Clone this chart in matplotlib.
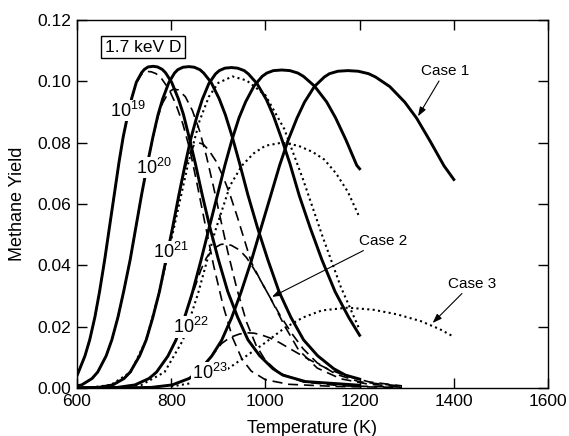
import matplotlib
matplotlib.use("Agg")
import matplotlib.pyplot as plt

plt.rcParams["font.family"] = ["Liberation Sans", "DejaVu Sans"]
plt.rcParams["mathtext.fontset"] = "custom"
plt.rcParams["mathtext.rm"] = "Liberation Sans"

# Case 1 (solid), one curve per flux (m-2 s-1)
case1_19_t = [600, 617, 627, 638, 648, 659, 669, 679, 689, 698, 708, 716, 726, 737, 743, 751, 762, 771, 781, 788, 801,
              815, 826, 838, 851, 866, 882, 900, 920, 941, 963, 988, 1016, 1037, 1085, 1200]
case1_19_y = [0.004, 0.0105, 0.0157, 0.0231, 0.0315, 0.042, 0.0525, 0.0629, 0.0734, 0.0818, 0.0892, 0.0944, 0.0997,
              0.1028, 0.1039, 0.1047, 0.1049, 0.1047, 0.1039, 0.1028, 0.0997, 0.0944, 0.0892, 0.0818, 0.0734, 0.0629,
              0.0525, 0.042, 0.0315, 0.0231, 0.0157, 0.0105, 0.0063, 0.0042, 0.0021, 0.0009]
case1_20_t = [600, 610, 632, 644, 662, 674, 687, 699, 713, 725, 737, 750, 761, 772, 782, 795, 807, 814, 825, 838, 849,
              861, 869, 885, 902, 915, 930, 945, 963, 983, 1005, 1029, 1054, 1081, 1111, 1145, 1170, 1200]
case1_20_y = [0.0007, 0.001, 0.0031, 0.0052, 0.0105, 0.0157, 0.0231, 0.0314, 0.0419, 0.0524, 0.0629, 0.0734, 0.0817,
              0.0891, 0.0943, 0.0996, 0.1027, 0.1038, 0.1046, 0.1048, 0.1046, 0.1038, 0.1027, 0.0996, 0.0943, 0.0891,
              0.0817, 0.0734, 0.0629, 0.0524, 0.0419, 0.0314, 0.0231, 0.0157, 0.0105, 0.0063, 0.0042, 0.0029]
case1_21_t = [600, 646, 676, 700, 713, 733, 747, 761, 775, 789, 803, 816, 830, 842, 855, 866, 880, 894, 902, 914, 928,
              941, 955, 964, 982, 1002, 1017, 1034, 1052, 1072, 1095, 1120, 1148, 1177, 1200]
case1_21_y = [0.0, 0.0002, 0.001, 0.0031, 0.0052, 0.0105, 0.0157, 0.023, 0.0314, 0.0418, 0.0523, 0.0627, 0.0732,
              0.0815, 0.0888, 0.0941, 0.0993, 0.1024, 0.1035, 0.1043, 0.1045, 0.1043, 0.1035, 0.1024, 0.0993, 0.0941,
              0.0888, 0.0815, 0.0732, 0.0627, 0.0523, 0.0418, 0.0314, 0.023, 0.0172]
case1_22_t = [600, 686, 723, 753, 769, 793, 810, 828, 845, 863, 880, 897, 914, 929, 944, 958, 976, 993, 1003, 1017,
              1035, 1052, 1069, 1081, 1104, 1130, 1149, 1171, 1194, 1200]
case1_22_y = [0.0, 0.0002, 0.001, 0.0031, 0.0052, 0.0104, 0.0156, 0.0228, 0.0311, 0.0415, 0.0519, 0.0622, 0.0726,
              0.0809, 0.0881, 0.0933, 0.0985, 0.1016, 0.1027, 0.1035, 0.1037, 0.1035, 0.1027, 0.1016, 0.0985, 0.0933,
              0.0881, 0.0809, 0.0726, 0.0715]
case1_23_t = [600, 700, 758, 802, 838, 857, 886, 907, 928, 948, 970, 990, 1010, 1030, 1048, 1067, 1083, 1104, 1125,
              1136, 1154, 1175, 1197, 1219, 1234, 1264, 1296, 1321, 1349, 1379, 1400]
case1_23_y = [0.0, 0.00003, 0.0002, 0.001, 0.0031, 0.0052, 0.0104, 0.0155, 0.0228, 0.0311, 0.0414, 0.0518, 0.0621,
              0.0725, 0.0807, 0.088, 0.0932, 0.0983, 0.1014, 0.1025, 0.1033, 0.1035, 0.1033, 0.1025, 0.1014, 0.0983,
              0.0932, 0.088, 0.0807, 0.0725, 0.068]

# Case 2 (dashed): rising side sits under the Case 1 curve, lower peak, faster fall
case2_19_t = [600, 617, 627, 638, 648, 659, 669, 679, 689, 698, 708, 716, 726, 737, 743, 751, 758, 768, 780, 795, 810,
              825, 840, 855, 870, 890, 910, 930, 950, 970, 1000, 1050, 1150, 1290]
case2_19_y = [0.004, 0.0105, 0.0157, 0.0231, 0.0315, 0.042, 0.0525, 0.0629, 0.0734, 0.0818, 0.0892, 0.0944, 0.0995,
              0.1023, 0.1030, 0.1032, 0.1031, 0.1025, 0.1008, 0.0975, 0.0925, 0.086, 0.0775, 0.0665, 0.055, 0.040,
              0.027, 0.0165, 0.0095, 0.0055, 0.0027, 0.0012, 0.0005, 0.0002]
case2_20_t = [600, 610, 632, 644, 662, 674, 687, 699, 713, 725, 737, 750, 761, 772, 782, 795, 805, 815, 830, 845, 860,
              875, 890, 905, 920, 940, 960, 980, 1000, 1030, 1080, 1160, 1290]
case2_20_y = [0.0007, 0.001, 0.0031, 0.0052, 0.0105, 0.0157, 0.0231, 0.0314, 0.0419, 0.0524, 0.0629, 0.0734, 0.0815,
              0.0885, 0.0930, 0.0965, 0.0975, 0.0972, 0.0950, 0.0905, 0.0840, 0.0755, 0.0655, 0.0550, 0.0445, 0.0320,
              0.0215, 0.0140, 0.0090, 0.0048, 0.0020, 0.0007, 0.0003]
case2_21_t = [600, 646, 676, 700, 713, 733, 747, 761, 775, 789, 803, 816, 830, 842, 850, 858, 868, 880, 895, 910, 925,
              940, 955, 970, 990, 1010, 1040, 1070, 1110, 1160, 1220, 1290]
case2_21_y = [0.0, 0.0002, 0.001, 0.0031, 0.0052, 0.0105, 0.0157, 0.023, 0.0314, 0.0418, 0.0523, 0.0625, 0.0720,
              0.0775, 0.0795, 0.0800, 0.0795, 0.0775, 0.0740, 0.0690, 0.0630, 0.0560, 0.0485, 0.0410, 0.0350, 0.0295,
              0.0205, 0.0125, 0.0065, 0.0030, 0.0012, 0.0005]
case2_22_t = [600, 686, 723, 753, 769, 793, 810, 828, 845, 863, 875, 890, 905, 915, 928, 945, 960, 975, 990, 1010, 1030,
              1055, 1080, 1110, 1150, 1200, 1290]
case2_22_y = [0.0, 0.0002, 0.001, 0.0031, 0.0052, 0.0104, 0.0156, 0.0228, 0.0305, 0.0385, 0.0425, 0.0455, 0.0468,
              0.0470, 0.0465, 0.0450, 0.0425, 0.0390, 0.0350, 0.0295, 0.0240, 0.0180, 0.0128, 0.0082, 0.0045, 0.0020,
              0.0006]
case2_23_t = [600, 758, 802, 838, 857, 886, 907, 925, 945, 960, 975, 990, 1010, 1030, 1050, 1075, 1100, 1130, 1170,
              1220, 1290]
case2_23_y = [0.0, 0.0002, 0.001, 0.0031, 0.0052, 0.0104, 0.0145, 0.0165, 0.0176, 0.0180, 0.0179, 0.0174, 0.0163,
              0.0148, 0.0130, 0.0108, 0.0087, 0.0064, 0.0040, 0.0020, 0.0007]

# Case 3 (dotted)
case3_21_t = [641, 672, 714, 747, 775, 806, 836, 860, 880, 900, 930, 960, 1000, 1040, 1080, 1120, 1160, 1200]
case3_21_y = [0.0004, 0.001, 0.0052, 0.0157, 0.0314, 0.0523, 0.0732, 0.0870, 0.0950, 0.0995, 0.1016, 0.1003, 0.0955,
              0.0845, 0.0680, 0.0500, 0.0330, 0.0190]
case3_22_t = [701, 737, 786, 825, 857, 893, 925, 950, 975, 1000, 1035, 1070, 1100, 1125, 1150, 1175, 1200]
case3_22_y = [0.0004, 0.001, 0.0052, 0.0156, 0.0308, 0.0510, 0.0660, 0.0725, 0.0765, 0.0790, 0.0800, 0.0790, 0.0770,
              0.0745, 0.0700, 0.0640, 0.0556]
case3_23_t = [800, 840, 880, 918, 960, 1000, 1040, 1080, 1120, 1175, 1230, 1280, 1330, 1370, 1400]
case3_23_y = [0.0005, 0.0015, 0.0032, 0.0060, 0.0105, 0.0148, 0.0195, 0.0230, 0.0253, 0.0262, 0.0255, 0.0240, 0.0218,
              0.0192, 0.0167]

flux_labels = [r"$\mathregular{10^{19}}$", r"$\mathregular{10^{20}}$", r"$\mathregular{10^{21}}$",
               r"$\mathregular{10^{22}}$", r"$\mathregular{10^{23}}$"]
flux_label_t = [707, 763, 799, 842, 882]
flux_label_y = [0.0905, 0.0719, 0.0444, 0.0199, 0.0049]

case1 = [(case1_19_t, case1_19_y), (case1_20_t, case1_20_y), (case1_21_t, case1_21_y),
         (case1_22_t, case1_22_y), (case1_23_t, case1_23_y)]
case2 = [(case2_19_t, case2_19_y), (case2_20_t, case2_20_y), (case2_21_t, case2_21_y),
         (case2_22_t, case2_22_y), (case2_23_t, case2_23_y)]
case3 = [(case3_21_t, case3_21_y), (case3_22_t, case3_22_y), (case3_23_t, case3_23_y)]

fig = plt.figure(figsize=(5.69, 4.36), dpi=100)
ax = fig.add_axes([0.1353, 0.1101, 0.8278, 0.844])

for t, y in case2:
    ax.plot(t, y, color="black", lw=1.2, linestyle=(0, (6, 3.5)), solid_capstyle="butt")
for t, y in case3:
    ax.plot(t, y, color="black", lw=1.5, linestyle=(0, (1, 1.6)))
for t, y in case1:
    ax.plot(t, y, color="black", lw=2.1, solid_joinstyle="round")

for lab, t, y in zip(flux_labels, flux_label_t, flux_label_y):
    ax.text(t, y, lab, fontsize=13, ha="center", va="center", zorder=5,
            bbox=dict(facecolor="white", edgecolor="none", pad=0.5))

ax.text(740, 0.1111, "1.7 keV D", fontsize=12.5, ha="center", va="center",
        bbox=dict(boxstyle="square,pad=0.2", facecolor="white", edgecolor="black", lw=1))

arrow = dict(arrowstyle="-|>,head_length=0.5,head_width=0.18", color="black", lw=0.8, shrinkA=0, shrinkB=0)
ax.annotate("Case 1", xy=(1324, 0.0886), xytext=(1381, 0.1033), fontsize=11, ha="center", va="center",
            arrowprops=arrow)
ax.annotate("Case 2", xy=(1014, 0.0297), xytext=(1249, 0.048), fontsize=11, ha="center", va="center",
            arrowprops=arrow)
ax.annotate("Case 3", xy=(1355, 0.0212), xytext=(1438, 0.034), fontsize=11, ha="center", va="center",
            arrowprops=arrow)

ax.set_xlim(600, 1600)
ax.set_ylim(0, 0.12)
ax.set_xticks([600, 800, 1000, 1200, 1400, 1600])
ax.set_yticks([0.0, 0.02, 0.04, 0.06, 0.08, 0.10, 0.12])
ax.yaxis.set_major_formatter(plt.FormatStrFormatter("%.2f"))
ax.tick_params(direction="in", length=7, width=1, labelsize=12.5, top=True, right=True, pad=4)
for s in ax.spines.values():
    s.set_linewidth(1)
ax.set_xlabel("Temperature (K)", fontsize=13, labelpad=8)
ax.set_ylabel("Methane Yield", fontsize=13, labelpad=8)

fig.savefig("out.png", dpi=100)
